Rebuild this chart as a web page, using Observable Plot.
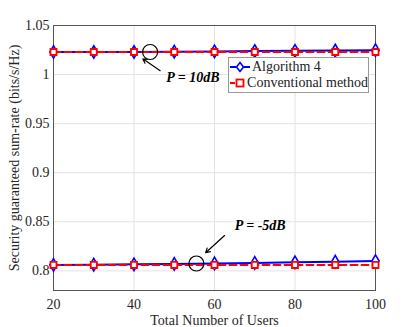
<!DOCTYPE html>
<html><head><meta charset="utf-8">
<script src="https://cdn.jsdelivr.net/npm/d3@7"></script>
<script src="https://cdn.jsdelivr.net/npm/@observablehq/plot@0.6"></script>
<style>
body{margin:0;background:#fff;}
#wrap{position:relative;width:415px;height:327px;font-family:"Liberation Serif","DejaVu Serif",serif;}
#legend{position:absolute;left:228px;top:57px;width:141px;height:36px;background:#fff;border:1px solid #999;box-sizing:border-box;font-size:14px;color:#222;padding-top:1px;}
#legend div{display:flex;align-items:center;height:16px;white-space:nowrap;}
</style></head>
<body><div id="wrap"><div id="chart"></div><div id="legend"></div></div>
<script>
const users = [20, 30, 40, 50, 60, 70, 80, 90, 100];
const alg_10dB = [1.023, 1.023, 1.023, 1.0233, 1.0236, 1.024, 1.0242, 1.0245, 1.0248];
const conv_10dB = [1.023, 1.023, 1.023, 1.023, 1.023, 1.023, 1.023, 1.023, 1.023];
const alg_m5dB = [0.806, 0.8063, 0.8067, 0.8071, 0.8076, 0.8081, 0.8087, 0.8093, 0.810];
const conv_m5dB = [0.806, 0.806, 0.806, 0.806, 0.806, 0.806, 0.806, 0.806, 0.806];
const xTicks = [20, 40, 60, 80, 100];
const yTicks = [0.8, 0.85, 0.9, 0.95, 1, 1.05];
const seriesNames = ["Algorithm 4", "Conventional method"];
const notes = [
  {label: "P = 10dB", cx: 44, cy: 1.023, ax1: 46.5, ay1: 1.004, ax2: 42.2, ay2: 1.016, tx: 48, ty: 0.997},
  {label: "P = -5dB", cx: 55.5, cy: 0.8075, ax1: 62.5, ay1: 0.836, ax2: 57.8, ay2: 0.8185, tx: 65, ty: 0.846}
];

const mk = (ys, s) => users.map((u, i) => ({x: u, y: ys[i], s}));
const algData = [mk(alg_10dB, "a10"), mk(alg_m5dB, "a5")].flat();
const convData = [mk(conv_10dB, "c10"), mk(conv_m5dB, "c5")].flat();

const blue = "#0000ff", red = "#ff0000";
const chart = Plot.plot({
  width: 415, height: 327,
  marginLeft: 53, marginRight: 40, marginTop: 25, marginBottom: 37,
  style: {fontFamily: "Liberation Serif, serif", fontSize: "14px", color: "#262626", background: "#fff"},
  x: {domain: [20, 100], ticks: xTicks, tickSize: 0, tickPadding: 9, label: "Total Number of Users", labelArrow: "none", labelAnchor: "center", labelOffset: 34},
  y: {domain: [0.78, 1.05], ticks: yTicks, tickSize: 0, tickPadding: 4, tickFormat: d => String(d), label: "Security guaranteed sum-rate (bits/s/Hz)", labelArrow: "none", labelAnchor: "center", labelOffset: 44},
  marks: [
    Plot.gridX(xTicks, {stroke: "#e3e3e3", strokeOpacity: 1}),
    Plot.gridY(yTicks, {stroke: "#e3e3e3", strokeOpacity: 1}),
    Plot.frame({stroke: "#555"}),
    Plot.line(algData, {x: "x", y: "y", z: "s", stroke: blue, strokeWidth: 2}),
    Plot.dot(algData, {x: "x", y: "y", symbol: "diamond", r: 3.8, stroke: blue, strokeWidth: 1.6, fill: "#fff"}),
    Plot.line(convData, {x: "x", y: "y", z: "s", stroke: red, strokeWidth: 2, strokeDasharray: "7,4"}),
    Plot.dot(convData, {x: "x", y: "y", symbol: "square", r: 3.4, stroke: red, strokeWidth: 1.8, fill: "#fff"}),
    Plot.dot(notes, {x: "cx", y: "cy", r: 7.5, stroke: "#000", strokeWidth: 1.2, fill: "none"}),
    Plot.arrow(notes, {x1: "ax1", y1: "ay1", x2: "ax2", y2: "ay2", stroke: "#000", strokeWidth: 1.2, headLength: 6}),
    Plot.text(notes, {x: "tx", y: "ty", text: "label", textAnchor: "start", fontWeight: "bold", fontStyle: "italic", fontSize: 14, fill: "#000"})
  ]
});
document.getElementById("chart").appendChild(chart);

const leg = document.getElementById("legend");
const syms = [
  `<svg width="22" height="14"><line x1="1" y1="7" x2="21" y2="7" stroke="${blue}" stroke-width="2"/><path d="M11,2.5 L14.5,7 L11,11.5 L7.5,7 Z" fill="#fff" stroke="${blue}" stroke-width="1.6"/></svg>`,
  `<svg width="22" height="14"><line x1="1" y1="7" x2="21" y2="7" stroke="${red}" stroke-width="2" stroke-dasharray="5,3"/><rect x="7.5" y="3.5" width="7" height="7" fill="#fff" stroke="${red}" stroke-width="1.8"/></svg>`
];
seriesNames.forEach((n, i) => {
  const d = document.createElement("div");
  d.innerHTML = syms[i] + `<span style="margin-left:1px">${n}</span>`;
  leg.appendChild(d);
});
</script></body></html>
